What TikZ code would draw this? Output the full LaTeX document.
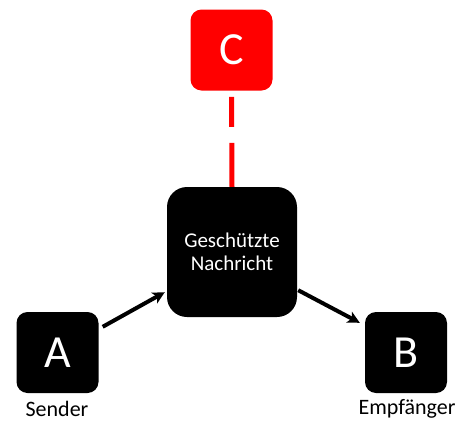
\documentclass[tikz,border=0pt]{standalone}
\usepackage{fontspec}
\setmainfont{Carlito}
\usetikzlibrary{arrows.meta}

\begin{document}
\begin{tikzpicture}[x=1pt, y=-1pt,
    party/.style={fill=black, text=white, rounded corners=11pt,
        minimum width=82pt, minimum height=81pt, inner sep=0pt,
        font=\fontsize{46}{46}\selectfont},
    msgbox/.style={fill=black, text=white, rounded corners=20pt,
        minimum width=130pt, minimum height=130pt, align=center,
        font=\fontsize{21}{23}\selectfont},
    role/.style={font=\fontsize{22}{22}\selectfont},
    flow/.style={line width=4pt, -{Stealth[length=12pt, width=12pt, inset=3pt]}}]
    \useasboundingbox (0,0) rectangle (467,421);
    \node[party, fill=red] (C) at (231.5,50) {C};
    \node[msgbox] (msg) at (232,252) {Geschützte\\Nachricht};
    \node[party] (A) at (57.5,352.5) {A};
    \node[party] (B) at (406,352.5) {B};
    \node[role] (sender) at (57,409) {Sender};
    \node[role] (receiver) at (407,409) {Empfänger};
    \draw[red, line width=5pt, dash pattern=on 44pt off 16pt on 30pt off 20pt] (msg.north) -- (C.south);
    \draw[flow] ([shift={(4,15)}]A.north east) -- ([shift={(-2,-25)}]msg.south west);
    \draw[flow] ([shift={(1,-27)}]msg.south east) -- ([shift={(-5,11)}]B.north west);
\end{tikzpicture}
\end{document}
